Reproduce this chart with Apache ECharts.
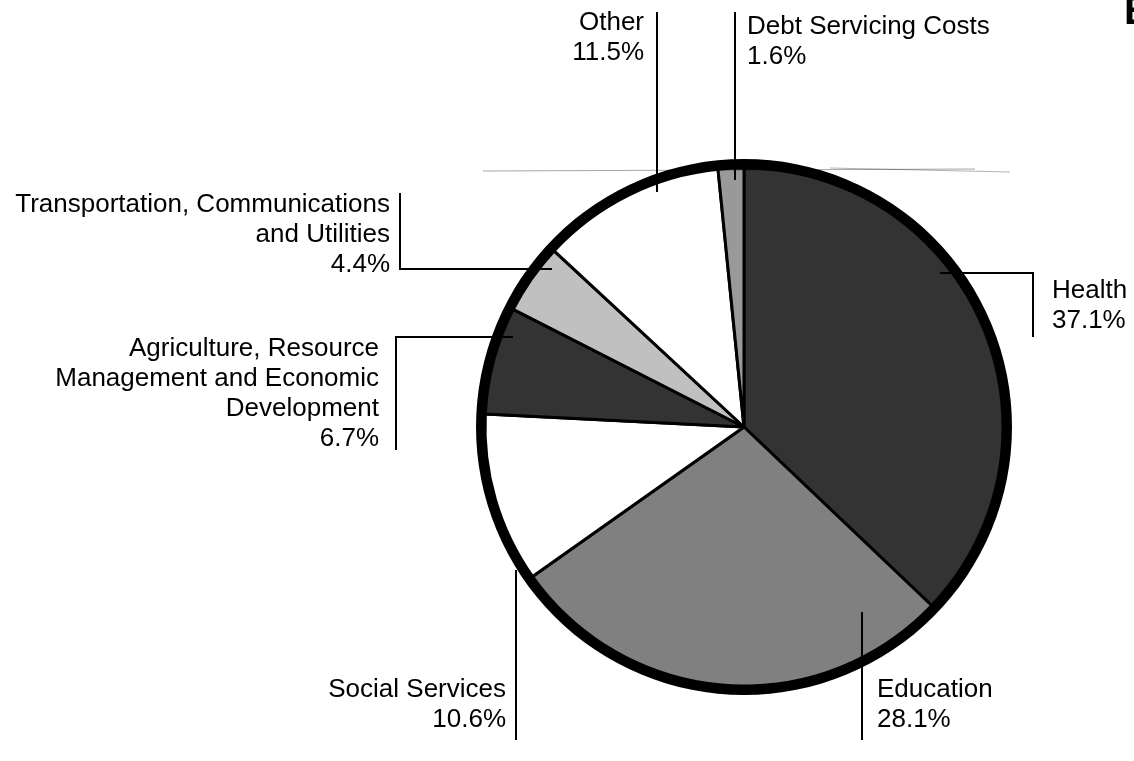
<!DOCTYPE html>
<html>
<head>
<meta charset="utf-8">
<script src="https://cdn.jsdelivr.net/npm/echarts@6/dist/echarts.min.js"></script>
<style>
html,body{margin:0;padding:0;background:#fff;}
#chart{width:1134px;height:761px;}
</style>
</head>
<body>
<div id="chart"></div>
<script>
// ---- data ----
const categories = [
  'Health',
  'Education',
  'Social Services',
  'Agriculture, Resource\nManagement and Economic\nDevelopment',
  'Transportation, Communications\nand Utilities',
  'Other',
  'Debt Servicing Costs'
];
const values = [37.1, 28.1, 10.6, 6.7, 4.4, 11.5, 1.6];

// ---- styles ----
const sliceColors = ['#333333', '#808080', '#ffffff', '#333333', '#c0c0c0', '#ffffff', '#999999'];

// label placement (annotation layout)
const labelPlacement = [
  { x: 1052, y: 276, align: 'left',  line: [[940, 273], [1033, 273], [1033, 337]] },
  { x: 877,  y: 675, align: 'left',  line: [[862, 612], [862, 676], [862, 740]] },
  { x: 506,  y: 675, align: 'right', line: [[516, 570], [516, 655], [516, 740]] },
  { x: 379,  y: 334, align: 'right', line: [[513, 337], [396, 337], [396, 450]] },
  { x: 390,  y: 190, align: 'right', line: [[552, 269], [400, 269], [400, 193]] },
  { x: 644,  y: 8,   align: 'right', line: [[657, 192], [657, 100], [657, 12]] },
  { x: 747,  y: 12,  align: 'left',  line: [[735, 180], [735, 100], [735, 12]] }
];

const chart = echarts.init(document.getElementById('chart'), null, { renderer: 'canvas' });

const pieData = categories.map((c, i) => ({
  name: c,
  value: values[i],
  itemStyle: { color: sliceColors[i] }
}));
const labelData = categories.map((c, i) => ({ name: c, value: values[i] }));

const CENTER = [744, 427];

const option = {
  backgroundColor: '#ffffff',
  animation: false,
  series: [
    {
      type: 'pie',
      center: CENTER,
      radius: [256, 268],
      silent: true,
      label: { show: false },
      labelLine: { show: false },
      itemStyle: { color: '#000000', borderWidth: 0 },
      data: [{ value: 1, name: 'ring' }],
      z: 1
    },
    {
      type: 'pie',
      center: CENTER,
      radius: [0, 259],
      startAngle: 90,
      clockwise: true,
      silent: true,
      data: pieData,
      itemStyle: { borderColor: '#000000', borderWidth: 3 },
      label: { show: false },
      labelLine: { show: false },
      z: 2
    },
    {
      type: 'pie',
      center: CENTER,
      radius: [0, 259],
      startAngle: 90,
      clockwise: true,
      silent: true,
      data: labelData,
      itemStyle: { color: 'rgba(0,0,0,0)', borderWidth: 0 },
      label: {
        show: true,
        position: 'outside',
        color: '#000000',
        fontFamily: 'Liberation Sans, Arial, sans-serif',
        fontSize: 26,
        lineHeight: 30,
        formatter: p => p.name + '\n' + values[p.dataIndex].toFixed(1) + '%'
      },
      labelLine: {
        show: true,
        smooth: false,
        lineStyle: { color: '#000000', width: 2 }
      },
      labelLayout: function (params) {
        const L = labelPlacement[params.dataIndex];
        return {
          x: L.x,
          y: L.y,
          align: L.align,
          verticalAlign: 'top',
          labelLinePoints: L.line,
          hideOverlap: false,
          moveOverlap: null
        };
      },
      z: 3
    }
  ],
  graphic: [
    { type: 'line', shape: { x1: 483, y1: 171, x2: 975, y2: 169 }, style: { stroke: 'rgba(0,0,0,0.35)', lineWidth: 1 }, z: 10, silent: true },
    { type: 'line', shape: { x1: 830, y1: 168, x2: 1010, y2: 172 }, style: { stroke: 'rgba(0,0,0,0.3)', lineWidth: 1 }, z: 10, silent: true },
    { type: 'text', left: 1124, top: -7, style: { text: 'E', font: 'bold 40px Liberation Sans, Arial, sans-serif', fill: '#000' }, silent: true }
  ]
};
chart.setOption(option);
</script>
</body>
</html>
